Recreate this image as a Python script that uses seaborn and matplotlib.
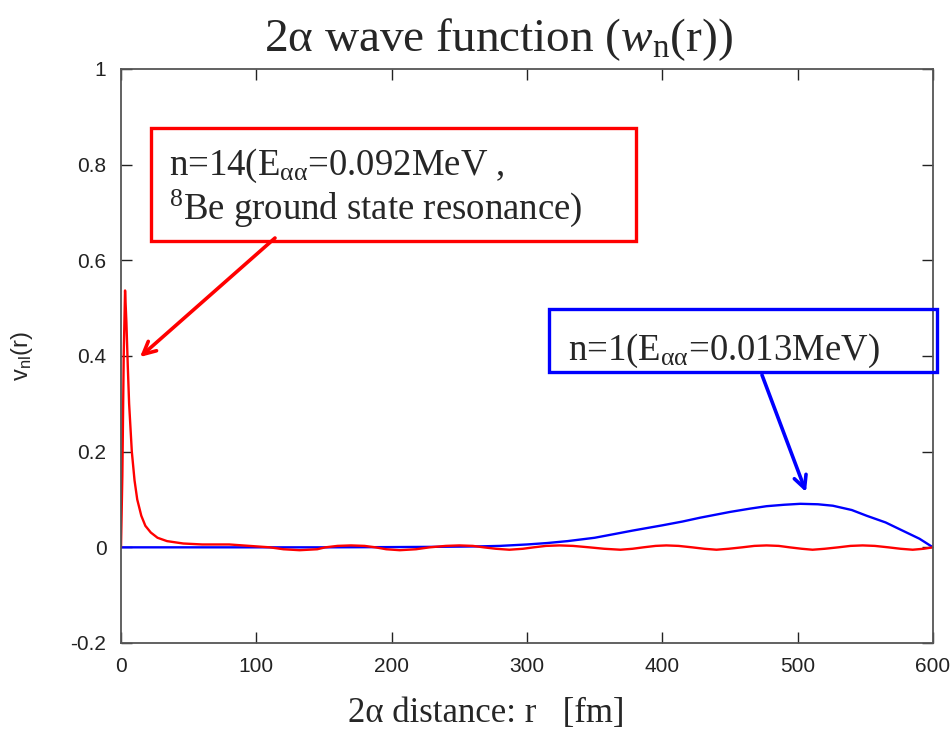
import numpy as np
import pandas as pd
import matplotlib
matplotlib.use("Agg")
import matplotlib.pyplot as plt
import seaborn as sns
from matplotlib.patches import Rectangle

# n=1 state (E_aa = 0.013 MeV)
r_n1 = [0, 50, 100, 150, 200, 230, 250, 265, 280, 300, 315, 330, 350, 365, 378,
        400, 415, 428, 450, 465, 477, 490, 502, 515, 526, 540, 551, 565, 576, 590, 600]
v_n1 = [0, 0, 0, 0, 0.0005, 0.001, 0.0015, 0.002, 0.003, 0.006, 0.009, 0.013, 0.02,
        0.028, 0.035, 0.046, 0.054, 0.062, 0.074, 0.081, 0.086, 0.089, 0.091, 0.090,
        0.087, 0.078, 0.066, 0.052, 0.037, 0.018, 0]

# n=14 state (8Be ground state resonance)
r_n14 = [0, 1, 2, 3, 4, 5, 6, 8, 10, 12, 15, 18, 22, 27, 34, 46, 60, 80, 95, 110,
         120, 132, 145, 151, 160, 170, 180, 188, 196, 206, 218, 228, 240, 250, 260,
         268, 277, 287, 297, 305, 314, 324, 334, 346, 357, 369, 378, 386, 395, 403,
         412, 422, 431, 440, 449, 459, 468, 477, 486, 494, 503, 511, 520, 530, 539,
         548, 557, 567, 576, 585, 593, 600]
v_n14 = [0, 0.15, 0.40, 0.537, 0.47, 0.38, 0.30, 0.20, 0.14, 0.10, 0.066, 0.045,
         0.031, 0.02, 0.013, 0.008, 0.006, 0.006, 0.003, 0.0, -0.004, -0.006, -0.004,
         0, 0.003, 0.004, 0.003, 0, -0.004, -0.006, -0.004, 0, 0.003, 0.004, 0.003,
         0, -0.003, -0.005, -0.003, 0, 0.003, 0.004, 0.003, 0, -0.003, -0.005, -0.003,
         0, 0.003, 0.004, 0.003, 0, -0.003, -0.005, -0.003, 0, 0.003, 0.004, 0.003,
         0, -0.003, -0.005, -0.003, 0, 0.003, 0.004, 0.003, 0, -0.003, -0.005, -0.003, 0]

x_ticks = [0, 100, 200, 300, 400, 500, 600]
y_ticks = [-0.2, 0, 0.2, 0.4, 0.6, 0.8, 1.0]
y_tick_labels = ["-0.2", "0", "0.2", "0.4", "0.6", "0.8", "1"]

sns.set_style("ticks")
plt.rcParams["font.family"] = ["Liberation Sans", "DejaVu Sans"]
plt.rcParams["mathtext.fontset"] = "custom"
plt.rcParams["mathtext.rm"] = "Liberation Serif"
plt.rcParams["mathtext.it"] = "Liberation Serif:italic"

W, H = 953, 731
fig = plt.figure(figsize=(W / 100, H / 100), dpi=100)
ax = fig.add_axes([121 / W, 1 - 643 / H, (933 - 121) / W, (643 - 69) / H])

df1 = pd.DataFrame({"r": r_n1, "v": v_n1})
df14 = pd.DataFrame({"r": r_n14, "v": v_n14})
sns.lineplot(data=df1, x="r", y="v", ax=ax, color="#0000ff", lw=1.7, sort=False)
sns.lineplot(data=df14, x="r", y="v", ax=ax, color="#ff0000", lw=1.7, sort=False)

ax.set_xlim(0, 600)
ax.set_ylim(-0.2, 1.0)
ax.set_xticks(x_ticks)
ax.set_xticklabels([str(t) for t in x_ticks])
ax.set_yticks(y_ticks)
ax.set_yticklabels(y_tick_labels)
ax.tick_params(direction="in", length=8, width=1, colors="#222222",
               labelsize=15, top=True, right=True)
ax.tick_params(axis="y", pad=10.5)
ax.tick_params(axis="x", pad=10)
for s in ax.spines.values():
    s.set_color("#555555")
    s.set_linewidth(1.3)
ax.set_xlabel("")
ax.set_ylabel("")

serif = "Liberation Serif"

# titles and axis labels
fig.text(498 / W, 1 - 40 / H, r"2α wave function ($\mathit{w}_{\mathregular{n}}$(r))",
         ha="center", va="center", family=serif, fontsize=34)
fig.text(486 / W, 1 - 722 / H, "2α distance: r   [fm]",
         ha="center", va="baseline", family=serif, fontsize=25)
fig.text(22 / W, 1 - 356 / H, r"v$_\mathregular{nl}$(r)", rotation=90,
         ha="center", va="center", fontsize=17)

# annotation boxes
fig.patches.append(Rectangle((151 / W, 1 - 241 / H), (636 - 151) / W, (241 - 128) / H,
                             transform=fig.transFigure, fill=False,
                             edgecolor="#ff0000", lw=2.4, zorder=5))
fig.patches.append(Rectangle((549 / W, 1 - 372 / H), (937 - 549) / W, (372 - 309) / H,
                             transform=fig.transFigure, fill=False,
                             edgecolor="#0000ff", lw=2.4, zorder=5))

fig.text(169 / W, 1 - 175 / H, r"n=14(E$_{\mathregular{αα}}$=0.092MeV ,",
         ha="left", va="baseline", family=serif, fontsize=26.5)
fig.text(169 / W, 1 - 219 / H, r"$^{\mathregular{8}}$Be ground state resonance)",
         ha="left", va="baseline", family=serif, fontsize=26.5)
fig.text(568 / W, 1 - 360 / H, r"n=1(E$_{\mathregular{αα}}$=0.013MeV)",
         ha="left", va="baseline", family=serif, fontsize=26.5)

# arrows pointing at the curves
ax.annotate("", xy=(140 / W, 1 - 357 / H), xycoords="figure fraction",
            xytext=(275 / W, 1 - 238 / H), textcoords="figure fraction",
            arrowprops=dict(arrowstyle="->,head_length=0.9,head_width=0.45",
                            color="#ff0000", lw=2.6, shrinkA=0, shrinkB=0))
ax.annotate("", xy=(806 / W, 1 - 492 / H), xycoords="figure fraction",
            xytext=(762 / W, 1 - 375 / H), textcoords="figure fraction",
            arrowprops=dict(arrowstyle="->,head_length=0.9,head_width=0.45",
                            color="#0000ff", lw=2.6, shrinkA=0, shrinkB=0))

fig.savefig("out.png", dpi=100)
